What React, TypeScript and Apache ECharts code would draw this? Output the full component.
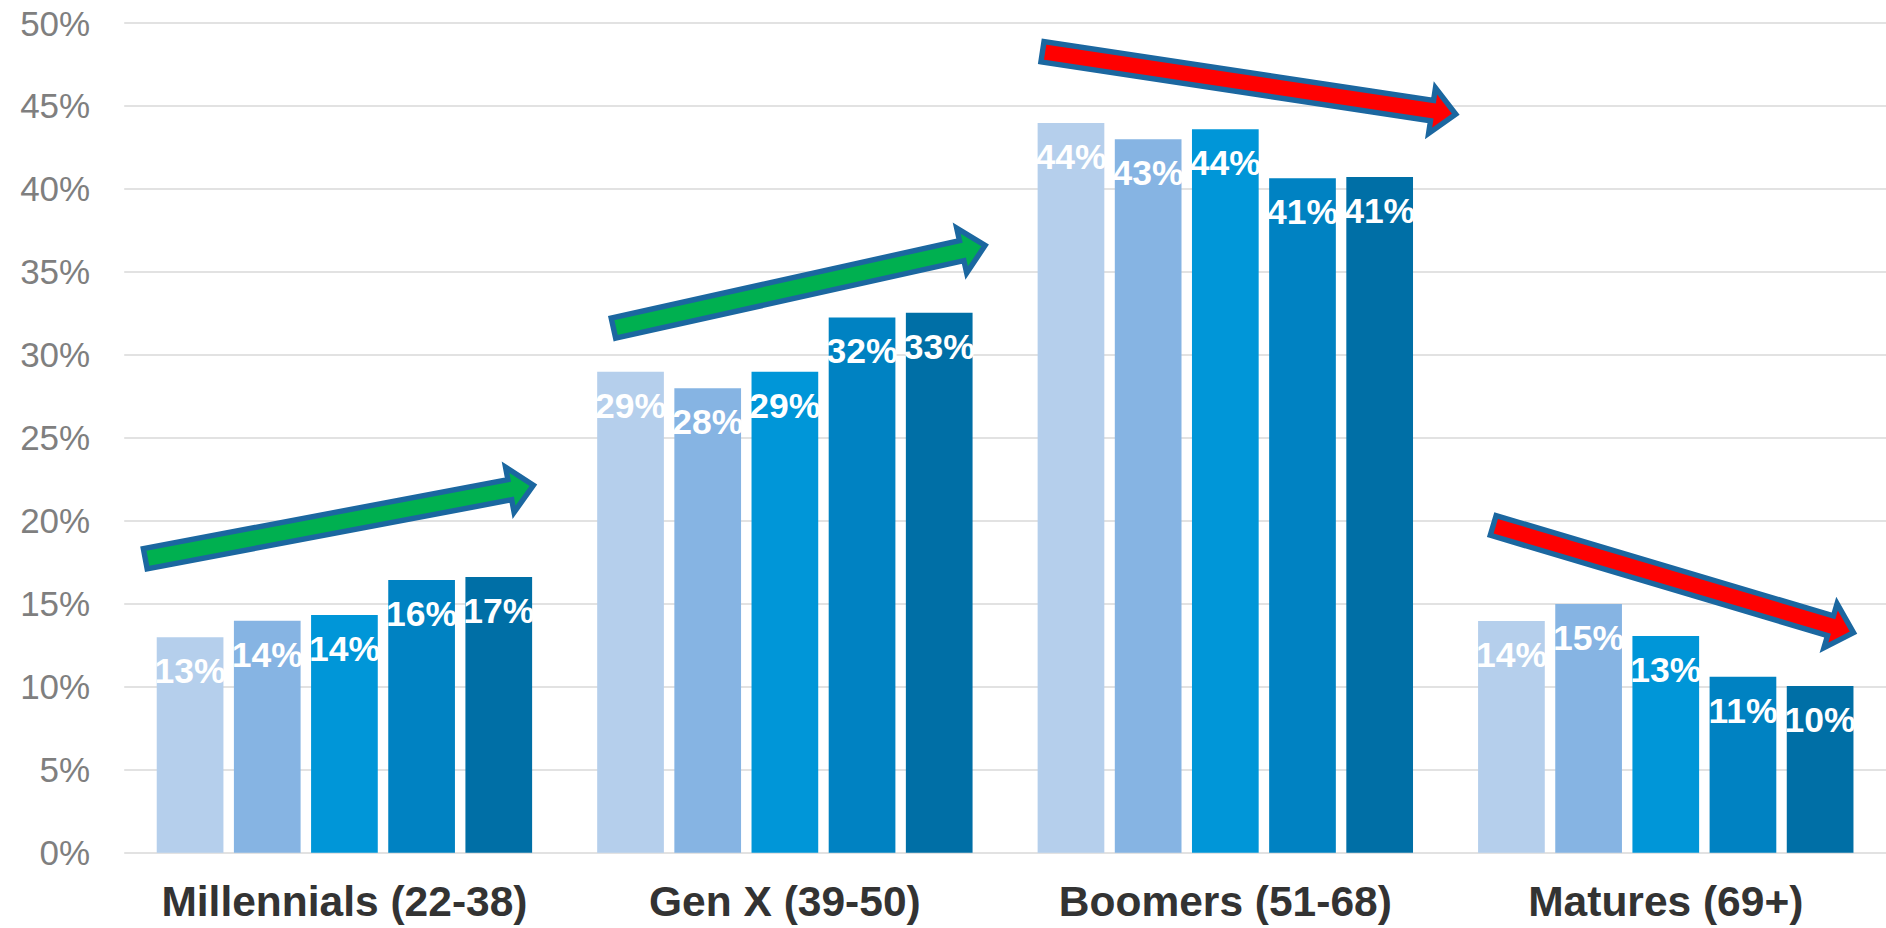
import React, { useEffect, useRef } from "react";
import * as echarts from "echarts";

// Generations on the category axis
const categories = ["Millennials (22-38)", "Gen X (39-50)", "Boomers (51-68)", "Matures (69+)"];

// Share of each generation, one array per survey wave (percent)
const wave1 = [12.98, 28.99, 43.97, 13.96];
const wave2 = [13.98, 27.99, 43.0, 14.99];
const wave3 = [14.32, 28.99, 43.59, 13.06];
const wave4 = [16.43, 32.26, 40.64, 10.61];
const wave5 = [16.61, 32.54, 40.72, 10.05];
const waveNames = ["Wave 1", "Wave 2", "Wave 3", "Wave 4", "Wave 5"];
const waves = [wave1, wave2, wave3, wave4, wave5];

// Value axis ticks (percent)
const yMin = 0;
const yMax = 50;
const yStep = 5;

const barColors = ["#B5CFEC", "#86B4E3", "#0096D8", "#0082C2", "#006FA6"];

// Trend arrows drawn over the plot: tail centre, tip, fill
const trendArrows = [
  { from: [142.8, 559.2], to: [538.3, 484.3], fill: "#00B050" },
  { from: [611, 328.7], to: [990, 244.3], fill: "#00B050" },
  { from: [1040, 51.3], to: [1460.7, 115], fill: "#FF0000" },
  { from: [1490.8, 524.7], to: [1858.3, 634], fill: "#FF0000" },
];

const FONT = "'Liberation Sans', Arial, Helvetica, sans-serif";

function arrowPoints(from: number[], to: number[]) {
  const shaft = 20.5;
  const headW = 46;
  const headL = 24;
  const dx = to[0] - from[0];
  const dy = to[1] - from[1];
  const len = Math.hypot(dx, dy);
  const ux = dx / len;
  const uy = dy / len;
  const nx = -uy;
  const ny = ux;
  const tipBack = 5;
  const tx = to[0] - ux * tipBack;
  const ty = to[1] - uy * tipBack;
  const bx = tx - ux * headL;
  const by = ty - uy * headL;
  const fx = from[0] + ux * 2.5;
  const fy = from[1] + uy * 2.5;
  const p = (x: number, y: number, k: number) => [x + nx * k, y + ny * k];
  return [
    p(fx, fy, shaft / 2),
    p(bx, by, shaft / 2),
    p(bx, by, headW / 2),
    [tx, ty],
    p(bx, by, -headW / 2),
    p(bx, by, -shaft / 2),
    p(fx, fy, -shaft / 2),
  ];
}

export default function App() {
  const ref = useRef<HTMLDivElement>(null);

  useEffect(() => {
    if (!ref.current) return;
    const chart = echarts.init(ref.current, null, { renderer: "svg" });

    const option: any = {
      animation: false,
      backgroundColor: "#FFFFFF",
      grid: { left: 124.2, width: 1766.4, top: 23, bottom: 75.3, containLabel: false },
      xAxis: {
        type: "category",
        data: categories,
        axisLine: { show: false },
        axisTick: { show: false },
        axisLabel: {
          interval: 0,
          margin: 27,
          fontSize: 42.5,
          fontWeight: "bold",
          color: "#333333",
          fontFamily: FONT,
        },
      },
      yAxis: {
        type: "value",
        min: yMin,
        max: yMax,
        interval: yStep,
        axisLine: { show: false },
        axisTick: { show: false },
        axisLabel: {
          margin: 34,
          fontSize: 35,
          color: "#7F7F7F",
          fontFamily: FONT,
          formatter: "{value}%",
        },
        splitLine: { lineStyle: { color: "#D9D9D9", width: 1.5 } },
      },
      series: waves.map((vals, i) => ({
        name: waveNames[i],
        type: "bar",
        data: vals,
        barWidth: 66.7,
        barGap: "15.7%",
        itemStyle: { color: barColors[i] },
        label: {
          show: true,
          position: ["50%", 34],
          align: "center",
          verticalAlign: "middle",
          color: "#FFFFFF",
          fontSize: 35.5,
          fontWeight: "bold",
          fontFamily: FONT,
          formatter: (p: any) => `${Math.round(p.value)}%`,
        },
      })),
      graphic: trendArrows.map((a) => ({
        type: "polygon",
        z: 100,
        shape: { points: arrowPoints(a.from, a.to) },
        style: {
          fill: a.fill,
          stroke: "#1B67A0",
          lineWidth: 5.4,
          lineJoin: "miter",
        },
      })),
    };

    chart.setOption(option);
    return () => chart.dispose();
  }, []);

  return (
    <div
      ref={ref}
      style={{ position: "fixed", left: 0, top: 0, width: 1886, height: 928, background: "#FFFFFF" }}
    />
  );
}
